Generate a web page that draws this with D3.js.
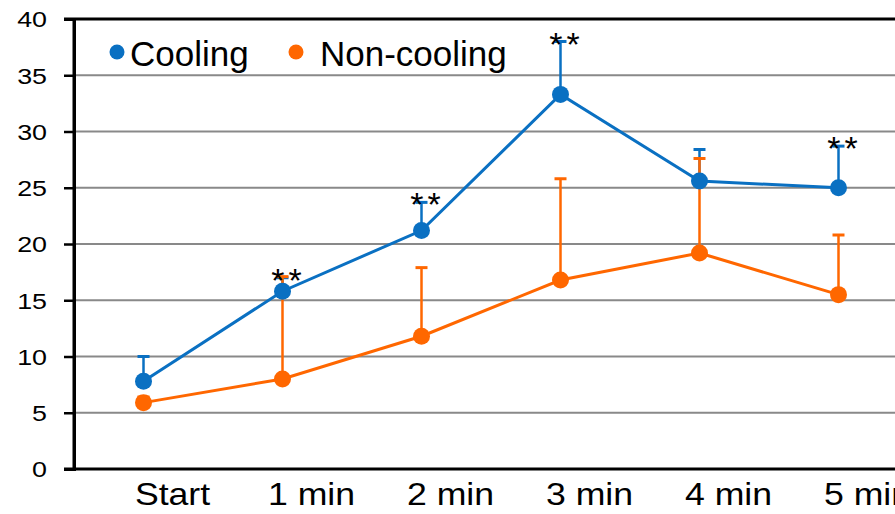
<!DOCTYPE html>
<html>
<head>
<meta charset="utf-8">
<script src="https://cdn.jsdelivr.net/npm/d3@7"></script>
<style>
  html, body { margin: 0; padding: 0; background: #fff; }
  svg { display: block; }
  text { font-family: "Liberation Sans", Arial, sans-serif; fill: #000; }
</style>
</head>
<body>
<svg id="chart" width="895" height="514"></svg>
<script>
// ---- data ----
const categories = ["Start", "1 min", "2 min", "3 min", "4 min", "5 min"];
const coolingMean = [7.8, 15.8, 21.2, 33.3, 25.6, 25.0];
const coolingSD = [2.2, 1.2, 2.5, 4.7, 2.8, 3.7];
const nonCoolingMean = [5.9, 8.0, 11.8, 16.8, 19.2, 15.5];
const nonCoolingSD = [0.5, 9.1, 6.1, 9.0, 8.4, 5.3];
const significance = ["", "**", "**", "**", "", "**"];
const yTicks = [0, 5, 10, 15, 20, 25, 30, 35, 40];
const seriesNames = ["Cooling", "Non-cooling"];

(function () {
// ---- styles ----
const BLUE = "#0a70c2";
const ORANGE = "#ff6700";
const GRID = "#898989";

const svg = d3.select("#chart");
const mLeft = 74, mTop = 19, mBottom = 469, step = 139;

const x = d3.scaleBand().domain(categories).range([mLeft, mLeft + step * categories.length]).padding(0);
const cx = c => x(c) + x.bandwidth() / 2;
const y = d3.scaleLinear().domain([0, 40]).range([mBottom, mTop]);

// gridlines
svg.append("g").selectAll("line").data(yTicks.filter(t => t > 0 && t < 40)).join("line")
  .attr("x1", mLeft).attr("x2", 895)
  .attr("y1", d => y(d)).attr("y2", d => y(d))
  .attr("stroke", GRID).attr("stroke-width", 2);

// top border
svg.append("line").attr("x1", mLeft - 10).attr("x2", 895)
  .attr("y1", y(40)).attr("y2", y(40)).attr("stroke", "#000").attr("stroke-width", 3);

// y axis
const yAxis = svg.append("g").attr("transform", `translate(${mLeft},0)`)
  .call(d3.axisLeft(y).tickValues(yTicks).tickSize(10).tickPadding(0).tickFormat(d3.format("d")));
yAxis.select(".domain").attr("stroke", "#000").attr("stroke-width", 3);
yAxis.selectAll(".tick line").attr("stroke", "#000").attr("stroke-width", 2.5);
const ySX = 1.22;
yAxis.selectAll(".tick text")
  .attr("font-size", 22).attr("font-family", "Liberation Sans, Arial, sans-serif")
  .attr("fill", "#000")
  .attr("dy", "0.36em")
  .attr("x", -27 / ySX)
  .attr("transform", `scale(${ySX},1)`);

// x axis
const xAxis = svg.append("g").attr("transform", `translate(0,${mBottom})`)
  .call(d3.axisBottom(x).tickSize(0).tickPadding(0));
xAxis.select(".domain").remove();
svg.append("line").attr("x1", mLeft - 10).attr("x2", 895)
  .attr("y1", mBottom).attr("y2", mBottom).attr("stroke", "#000").attr("stroke-width", 3);
svg.append("line").attr("x1", mLeft).attr("x2", mLeft)
  .attr("y1", mTop).attr("y2", mBottom + 1.5).attr("stroke", "#000").attr("stroke-width", 3);
const xSX = 1.15;
xAxis.selectAll(".tick").each(function(d) {
  const t = d3.select(this).select("text");
  t.attr("font-size", 31).attr("font-family", "Liberation Sans, Arial, sans-serif")
   .attr("fill", "#000")
   .attr("y", 36).attr("dy", 0)
   .attr("x", 29 / xSX)
   .attr("text-anchor", "middle")
   .attr("transform", `scale(${xSX},1)`);
});

// series
const series = [
  { name: seriesNames[0], mean: coolingMean, sd: coolingSD, color: BLUE },
  { name: seriesNames[1], mean: nonCoolingMean, sd: nonCoolingSD, color: ORANGE }
];

// error bars
series.forEach(s => {
  const g = svg.append("g");
  categories.forEach((c, i) => {
    const xt = cx(c), y0 = y(s.mean[i]), y1 = y(s.mean[i] + s.sd[i]);
    g.append("line").attr("x1", xt).attr("x2", xt).attr("y1", y0).attr("y2", y1)
      .attr("stroke", s.color).attr("stroke-width", 2.5);
    g.append("line").attr("x1", xt - 6).attr("x2", xt + 6).attr("y1", y1).attr("y2", y1)
      .attr("stroke", s.color).attr("stroke-width", 3);
  });
});

// lines
const line = d3.line().x((d, i) => cx(categories[i])).y(d => y(d));
series.forEach(s => {
  svg.append("path").datum(s.mean).attr("d", line)
    .attr("fill", "none").attr("stroke", s.color).attr("stroke-width", 3);
});

// markers
series.forEach(s => {
  svg.append("g").selectAll("circle").data(s.mean).join("circle")
    .attr("cx", (d, i) => cx(categories[i])).attr("cy", d => y(d))
    .attr("r", 8.5).attr("fill", s.color);
});

// significance stars
const starIdx = categories.map((c, i) => i).filter(i => significance[i] !== "");
svg.append("g").selectAll("text").data(starIdx).join("text")
  .attr("x", i => cx(categories[i]) + 6)
  .attr("y", i => y(coolingMean[i] + coolingSD[i]) + 14)
  .attr("text-anchor", "middle")
  .attr("font-family", "DejaVu Sans, sans-serif")
  .attr("font-size", 34)
  .attr("letter-spacing", 4)
  .text(i => significance[i]);

// legend
const legendPos = [{ dot: 117, text: 130 }, { dot: 296, text: 320 }];
series.forEach((s, i) => {
  svg.append("circle").attr("cx", legendPos[i].dot).attr("cy", 52).attr("r", 7.5).attr("fill", s.color);
  svg.append("text").attr("x", legendPos[i].text).attr("y", 66)
    .attr("font-size", 35).text(s.name);
});
})();
</script>
</body>
</html>
